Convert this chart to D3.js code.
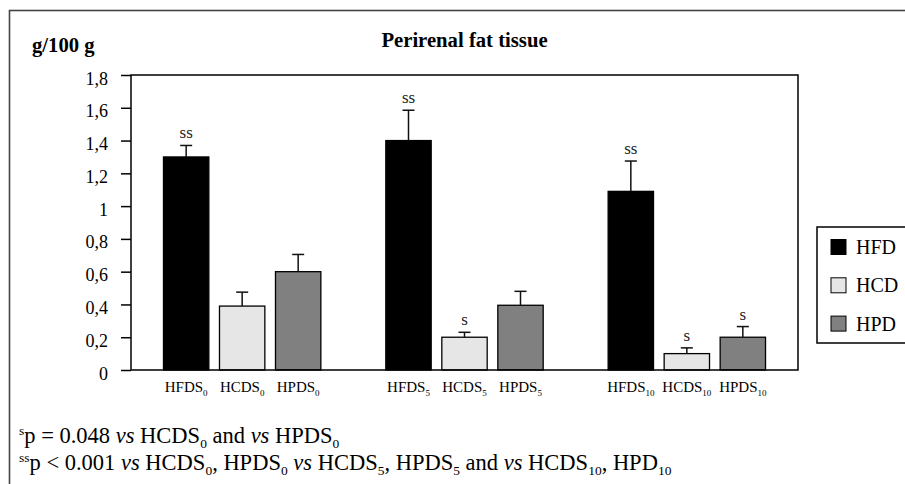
<!DOCTYPE html>
<html lang="en">
<head>
    <title>Perirenal fat tissue</title>
    <script src="https://d3js.org/d3.v7.min.js"></script>
    <style>
        body { margin: 0; background: #fff; }
        svg text { font-family: "Liberation Serif", "Times New Roman", serif; fill: #000; }
    </style>
</head>
<body>
<svg id="chart"></svg>

<script>
    // data
    const diets = ["HFD", "HCD", "HPD"];
    const periods = ["0", "5", "10"];
    const dietColors = ["#000000", "#e6e6e6", "#808080"];
    const hfdMeans = [1.30, 1.40, 1.09];
    const hfdErrors = [0.07, 0.185, 0.185];
    const hcdMeans = [0.39, 0.20, 0.10];
    const hcdErrors = [0.085, 0.03, 0.035];
    const hpdMeans = [0.60, 0.395, 0.20];
    const hpdErrors = [0.105, 0.085, 0.065];
    const hfdSig = ["ss", "ss", "ss"];
    const hcdSig = ["", "s", "s"];
    const hpdSig = ["", "", "s"];
    const yTicks = [0, 0.2, 0.4, 0.6, 0.8, 1, 1.2, 1.4, 1.6, 1.8];

    let width = 905,
        height = 484,
        margin = {top: 75, right: 107, bottom: 114, left: 131};

    let svg = d3.select("#chart")
        .attr("width", width)
        .attr("height", height)
        .attr("font-family", "'Liberation Serif', serif");

    let means = [hfdMeans, hcdMeans, hpdMeans],
        errors = [hfdErrors, hcdErrors, hpdErrors],
        sigs = [hfdSig, hcdSig, hpdSig];

    let rows = [];
    periods.forEach((p, pi) => {
        diets.forEach((d, di) => {
            rows.push({period: p, diet: d, color: dietColors[di],
                value: means[di][pi], err: errors[di][pi], sig: sigs[di][pi]});
        });
    });

    // outer frame (runs off the right and bottom of the picture)
    svg.append("rect")
        .attr("x", 9.5).attr("y", 10.5)
        .attr("width", 1000).attr("height", 1000)
        .attr("fill", "none")
        .attr("stroke", "#444")
        .attr("stroke-width", 1.6);

    let y = d3.scaleLinear()
        .domain([0, 1.8])
        .range([height - margin.bottom, margin.top]);

    let x0 = d3.scaleBand()
        .domain(periods)
        .range([margin.left, width - margin.right]);

    let x1 = d3.scaleBand()
        .domain(diets)
        .range([0, x0.bandwidth()])
        .paddingInner(0.19)
        .paddingOuter(0.58);

    // y axis
    let yAxis = d3.axisLeft(y)
        .tickValues(yTicks)
        .tickSize(10)
        .tickPadding(13)
        .tickFormat(d => d3.format("~g")(d).replace(".", ","));

    let ag = svg.append("g")
        .attr("transform", `translate(${margin.left},0)`)
        .call(yAxis)
        .attr("font-family", null)
        .attr("font-size", 18);
    ag.select(".domain").remove();
    ag.selectAll(".tick line").attr("stroke", "#000").attr("stroke-width", 1.5);
    ag.selectAll(".tick text")
        .attr("dy", "0.5em");

    // bars
    let bars = svg.append("g");
    bars.selectAll("rect")
        .data(rows)
        .join("rect")
        .attr("x", d => x0(d.period) + x1(d.diet))
        .attr("y", d => y(d.value))
        .attr("width", x1.bandwidth())
        .attr("height", d => y(0) - y(d.value))
        .attr("fill", d => d.color)
        .attr("stroke", "#000")
        .attr("stroke-width", 1.3);

    // error bars (upper only)
    let eb = svg.append("g").attr("stroke", "#111").attr("stroke-width", 1.5);
    rows.forEach(d => {
        let cx = x0(d.period) + x1(d.diet) + x1.bandwidth() / 2;
        eb.append("line")
            .attr("x1", cx).attr("x2", cx)
            .attr("y1", y(d.value)).attr("y2", y(d.value + d.err));
        eb.append("line")
            .attr("x1", cx - 6).attr("x2", cx + 6)
            .attr("y1", y(d.value + d.err)).attr("y2", y(d.value + d.err));
    });

    // significance marks
    svg.append("g").selectAll("text")
        .data(rows.filter(d => d.sig !== ""))
        .join("text")
        .attr("x", d => x0(d.period) + x1(d.diet) + x1.bandwidth() / 2)
        .attr("y", d => y(d.value + d.err) - 7)
        .attr("text-anchor", "middle")
        .attr("font-size", 17)
        .style("fill", "#222")
        .text(d => d.sig);

    // plot frame
    svg.append("rect")
        .attr("x", margin.left)
        .attr("y", margin.top)
        .attr("width", width - margin.right - margin.left)
        .attr("height", y(0) - margin.top)
        .attr("fill", "none")
        .attr("stroke", "#000")
        .attr("stroke-width", 1.5);

    // category labels with subscripts
    let cl = svg.append("g").selectAll("text")
        .data(rows)
        .join("text")
        .attr("x", d => x0(d.period) + x1(d.diet) + x1.bandwidth() / 2)
        .attr("y", 392)
        .attr("text-anchor", "middle")
        .attr("font-size", 15);
    cl.append("tspan").text(d => d.diet + "S");
    cl.append("tspan").attr("font-size", 9).attr("dy", 4).text(d => d.period);

    // titles
    svg.append("text")
        .attr("x", (margin.left + width - margin.right) / 2)
        .attr("y", 47)
        .attr("text-anchor", "middle")
        .attr("font-size", 20.7)
        .attr("font-weight", "bold")
        .text("Perirenal fat tissue");

    svg.append("text")
        .attr("x", 32)
        .attr("y", 52)
        .attr("font-size", 20.7)
        .attr("font-weight", "bold")
        .text("g/100 g");

    // legend
    let lg = svg.append("g");
    lg.append("rect")
        .attr("x", 817).attr("y", 227)
        .attr("width", 200).attr("height", 116)
        .attr("fill", "#fff")
        .attr("stroke", "#000")
        .attr("stroke-width", 1.5);
    diets.forEach((d, i) => {
        lg.append("rect")
            .attr("x", 831).attr("y", 239.5 + i * 38.3)
            .attr("width", 15).attr("height", 15)
            .attr("fill", dietColors[i])
            .attr("stroke", "#000").attr("stroke-width", 1);
        lg.append("text")
            .attr("x", 856).attr("y", 254 + i * 38.3)
            .attr("font-size", 20)
            .text(d);
    });

    // footnotes
    function note(yPos, parts) {
        let t = svg.append("text").attr("x", 19).attr("y", yPos).attr("font-size", 22.5);
        parts.forEach(p => {
            let s = t.append("tspan").text(p.t);
            if (p.sup) s.attr("font-size", 13.5).attr("dy", -8);
            if (p.sub) s.attr("font-size", 13.5).attr("dy", 5);
            if (p.i) s.attr("font-style", "italic");
            if (p.back) s.attr("dy", p.back);
        });
    }
    note(443, [
        {t: "s", sup: true}, {t: "p = 0.048 ", back: 8}, {t: "vs", i: true}, {t: " HCDS"},
        {t: "0", sub: true}, {t: " and ", back: -5}, {t: "vs", i: true}, {t: " HPDS"},
        {t: "0", sub: true}
    ]);
    note(470, [
        {t: "ss", sup: true}, {t: "p < 0.001 ", back: 8}, {t: "vs", i: true}, {t: " HCDS"},
        {t: "0", sub: true}, {t: ", HPDS", back: -5}, {t: "0", sub: true}, {t: " ", back: -5},
        {t: "vs", i: true}, {t: " HCDS"}, {t: "5", sub: true}, {t: ", HPDS", back: -5},
        {t: "5", sub: true}, {t: " and ", back: -5}, {t: "vs", i: true}, {t: " HCDS"},
        {t: "10", sub: true}, {t: ", HPD", back: -5}, {t: "10", sub: true}
    ]);
</script>
</body>
</html>
